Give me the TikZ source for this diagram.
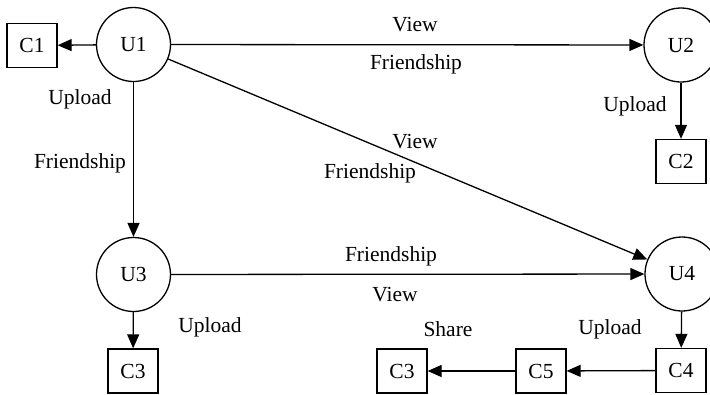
\documentclass[tikz,border=0pt]{standalone}
\usepackage{fontspec}
\setmainfont{Liberation Serif}
\newfontfamily\labelfont{Liberation Serif}
\usetikzlibrary{arrows.meta}
\begin{document}
\begin{tikzpicture}[x=1pt,y=-1pt,
  font=\labelfont\fontsize{21.5}{25}\selectfont,
  user/.style={draw,circle,line width=1.3pt,minimum size=74pt,inner sep=0pt},
  item/.style={draw,rectangle,line width=1.3pt,minimum width=50pt,minimum height=44pt,inner sep=0pt},
  link/.style={line width=1.3pt,-{Triangle[length=14pt,width=12pt]}},
  lbl/.style={inner sep=0pt,anchor=center}]
\clip (0,0) rectangle (710,394);
\useasboundingbox (0,0) rectangle (710,394);
% users
\node[user] (U1) at (133.5,44.5) {U1};
\node[user] (U2) at (681,45) {U2};
\node[user] (U3) at (133.5,274.5) {U3};
\node[user] (U4) at (682,274) {U4};
% content items
\node[item] (C1) at (32,45.5) {C1};
\node[item] (C2) at (681,161.5) {C2};
\node[item] (C3) at (133,371) {C3};
\node[item] (C4) at (681,370.5) {C4};
\node[item] (C5) at (541,371) {C5};
\node[item] (C3b) at (402,371) {C3};
% relations
\draw[link] (U1) -- (C1);
\draw[link] (U1) -- (U2);
\draw[link] (U1) -- (U4);
\draw[link] (U1) -- (U3);
\draw[link] (U2) -- (C2);
\draw[link] (U3) -- (U4);
\draw[link] (U3) -- (C3);
\draw[link] (U4) -- (C4);
\draw[link] (C4) -- (C5);
\draw[link] (C5) -- (C3b);
% labels
\node[lbl] (l1) at (415,25) {View};
\node[lbl] (l2) at (416,64) {Friendship};
\node[lbl] (l3) at (80,99) {Upload};
\node[lbl] (l4) at (80,163) {Friendship};
\node[lbl] (l5) at (635,106) {Upload};
\node[lbl] (l6) at (415,142) {View};
\node[lbl] (l7) at (370,173) {Friendship};
\node[lbl] (l8) at (391,256) {Friendship};
\node[lbl] (l9) at (395,295) {View};
\node[lbl] (l10) at (210,327) {Upload};
\node[lbl] (l11) at (448,329) {Share};
\node[lbl] (l12) at (610,329) {Upload};
\end{tikzpicture}
\end{document}
